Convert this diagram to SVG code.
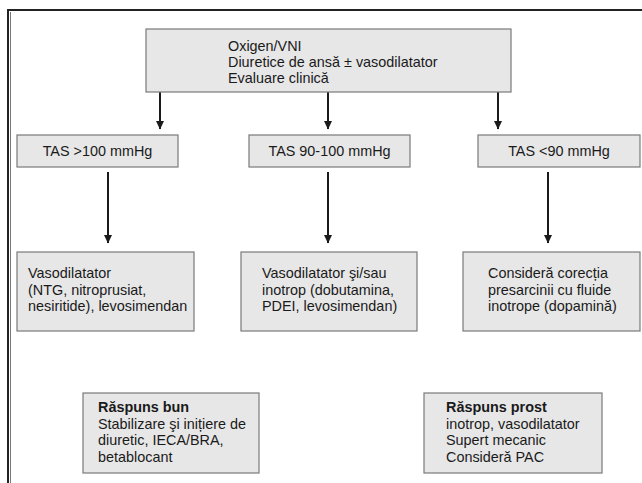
<svg xmlns="http://www.w3.org/2000/svg" width="642" height="483" viewBox="0 0 642 483">
<style>
.box{fill:#e7e7e7;stroke:#7a7a7a;stroke-width:1.2}
.t{font-family:"Liberation Sans",Arial,sans-serif;font-size:14.4px;fill:#1a1a1a}
.b{font-weight:bold}
.c{text-anchor:middle}
.ln{stroke:#1a1a1a;stroke-width:2;fill:none}
</style>
<defs>
<marker id="ah" markerWidth="9" markerHeight="9" refX="8" refY="4.5" orient="auto" markerUnits="userSpaceOnUse" viewBox="0 0 9 9">
<path d="M0,0.5 L8.5,4.5 L0,8.5 Z" fill="#1a1a1a"/>
</marker>
</defs>
<rect width="642" height="483" fill="#ffffff"/>
<g id="frame">
<path d="M8,483 L8,10 L642,10" stroke="#222" stroke-width="2" fill="none"/>
<line x1="10.5" y1="12" x2="10.5" y2="483" stroke="#555" stroke-width="0.8"/>
</g>
<g id="connectors">
<line class="ln" x1="160" y1="92" x2="160" y2="129" marker-end="url(#ah)"/>
<line class="ln" x1="328" y1="92" x2="328" y2="129" marker-end="url(#ah)"/>
<line class="ln" x1="498" y1="92" x2="498" y2="129" marker-end="url(#ah)"/>
<line class="ln" x1="108" y1="172" x2="108" y2="243" marker-end="url(#ah)"/>
<line class="ln" x1="328" y1="172" x2="328" y2="243" marker-end="url(#ah)"/>
<line class="ln" x1="548" y1="172" x2="548" y2="243" marker-end="url(#ah)"/>
</g>
<g id="top">
<rect class="box" x="146" y="29" width="365" height="63"/>
<text class="t" x="228" y="51">Oxigen/VNI</text>
<text class="t" x="228" y="67">Diuretice de ansă ± vasodilatator</text>
<text class="t" x="228" y="83">Evaluare clinică</text>
</g>
<g id="tas1">
<rect class="box" x="17" y="135" width="161" height="32"/>
<text class="t c" x="97.5" y="156">TAS &gt;100 mmHg</text>
</g>
<g id="tas2">
<rect class="box" x="249" y="135" width="161" height="32"/>
<text class="t c" x="329.5" y="156">TAS 90-100 mmHg</text>
</g>
<g id="tas3">
<rect class="box" x="478" y="135" width="162" height="32"/>
<text class="t c" x="559" y="156">TAS &lt;90 mmHg</text>
</g>
<g id="vaso">
<rect class="box" x="17" y="252" width="177" height="79"/>
<text class="t" x="28" y="278">Vasodilatator</text>
<text class="t" x="28" y="294.5">(NTG, nitroprusiat,</text>
<text class="t" x="28" y="311">nesiritide), levosimendan</text>
</g>
<g id="inotrop">
<rect class="box" x="241" y="252" width="176" height="79"/>
<text class="t" x="262" y="278">Vasodilatator şi/sau</text>
<text class="t" x="262" y="294.5">inotrop (dobutamina,</text>
<text class="t" x="262" y="311">PDEI, levosimendan)</text>
</g>
<g id="presarcina">
<rect class="box" x="463" y="252" width="177" height="79"/>
<text class="t" x="488" y="278">Consideră corecția</text>
<text class="t" x="488" y="294.5">presarcinii cu fluide</text>
<text class="t" x="488" y="311">inotrope (dopamină)</text>
</g>
<g id="bun">
<rect class="box" x="83" y="393" width="176" height="80"/>
<text class="t b" x="98" y="412">Răspuns bun</text>
<text class="t" x="98" y="428.5">Stabilizare şi inițiere de</text>
<text class="t" x="98" y="445">diuretic, IECA/BRA,</text>
<text class="t" x="98" y="461.5">betablocant</text>
</g>
<g id="prost">
<rect class="box" x="424" y="393" width="178" height="80"/>
<text class="t b" x="446" y="412">Răspuns prost</text>
<text class="t" x="446" y="428.5">inotrop, vasodilatator</text>
<text class="t" x="446" y="445">Supert mecanic</text>
<text class="t" x="446" y="461.5">Consideră PAC</text>
</g>
</svg>
